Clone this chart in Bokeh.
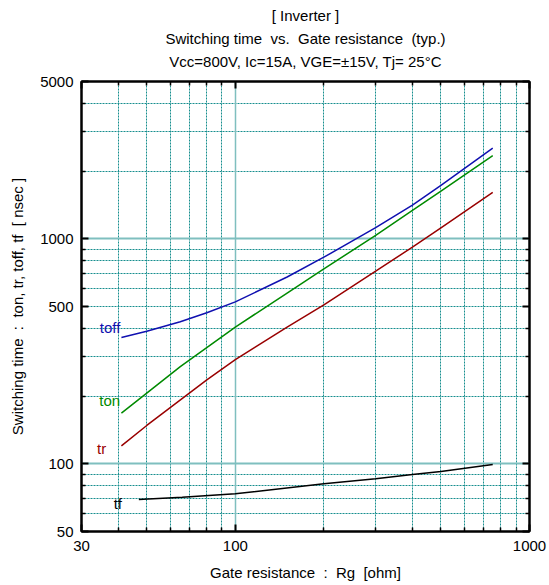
from bokeh.plotting import figure
from bokeh.models import (LogAxis, FixedTicker, PrintfTickFormatter, Grid, Title, Label,
                          CustomLabelingPolicy)
from bokeh.embed import file_html
from bokeh.resources import INLINE

FONT = "Liberation Sans"
NB = "\u00a0"

# ---- data ----
rg_toff = [41, 50, 65, 80, 100, 150, 200, 300, 400, 500, 750]
toff = [364, 388, 428, 469, 524, 676, 828, 1120, 1410, 1728, 2528]

rg_ton = [41, 50, 65, 100, 150, 200, 300, 400, 500, 750]
ton = [168, 206, 270, 405, 574, 735, 1035, 1336, 1630, 2344]

rg_tr = [41, 50, 80, 100, 150, 200, 300, 400, 500, 750]
tr = [120, 148, 236, 290, 405, 508, 718, 918, 1118, 1606]

rg_tf = [47, 66, 100, 200, 300, 400, 500, 750]
tf = [69.3, 70.9, 73.5, 81.5, 85.7, 89.6, 92.4, 99.3]

x_major = [30, 100, 1000]
x_minor = [40, 50, 60, 70, 80, 90, 200, 300, 400, 500, 600, 700, 800, 900]
y_major = [50, 100, 500, 1000, 5000]
y_minor = [60, 70, 80, 90, 200, 300, 400, 600, 700, 800, 900, 2000, 3000, 4000]
x_grid_dot = [40, 50, 60, 70, 80, 90, 200, 300, 400, 500, 600, 700, 800, 900]
x_grid_solid = [100]
y_grid_dot = [60, 70, 80, 90, 200, 300, 400, 500, 600, 700, 800, 900, 2000, 3000, 4000]
y_grid_solid = [100, 1000]

title_lines = ["[ Inverter ]",
               f"Switching time {NB}vs. {NB}Gate resistance {NB}(typ.)",
               "Vcc=800V, Ic=15A, VGE=\u00b115V, Tj= 25\u00b0C"]
x_title = f"Gate resistance {NB}: {NB}Rg {NB}[ohm]"
y_title = f"Switching time {NB}: {NB}ton, tr, toff, tf {NB}[ nsec ]"

p = figure(width=549, height=585, x_axis_type="log", y_axis_type="log",
           x_range=(30, 1000), y_range=(50, 5000),
           output_backend="svg", toolbar_location=None,
           min_border_left=81, min_border_right=20,
           min_border_top=81, min_border_bottom=54)
p.title = None
p.grid.visible = False
p.outline_line_color = "black"
p.outline_line_width = 2
p.background_fill_color = "white"
p.border_fill_color = "white"

def style_axis(ax, ticks, minors, show_labels):
    ax.ticker = FixedTicker(ticks=ticks, minor_ticks=minors)
    ax.formatter = PrintfTickFormatter(format="%d")
    ax.axis_line_color = "black"
    ax.axis_line_width = 2
    ax.major_tick_in = 7
    ax.major_tick_out = 0
    ax.minor_tick_in = 4
    ax.minor_tick_out = 0
    ax.major_tick_line_width = 2
    ax.minor_tick_line_width = 1.5
    ax.major_tick_line_color = "black"
    ax.minor_tick_line_color = "black"
    ax.major_label_text_font = FONT
    ax.major_label_text_color = "black"
    if show_labels:
        ax.major_label_text_font_size = "15px"
    else:
        ax.major_label_text_font_size = "1px"
        ax.major_label_standoff = 0
        ax.major_label_policy = CustomLabelingPolicy(code="return new Set()")
    ax.axis_label_text_font = FONT
    ax.axis_label_text_font_size = "15px"
    ax.axis_label_text_font_style = "normal"
    ax.axis_label_text_color = "black"

xa = p.xaxis[0]
ya = p.yaxis[0]
style_axis(xa, x_major, x_minor, True)
style_axis(ya, y_major, y_minor, True)
xa.major_label_standoff = 9
ya.major_label_standoff = 8
xa.axis_label = x_title
ya.axis_label = y_title
xa.axis_label_standoff = 10
ya.axis_label_standoff = 11

top_ax = LogAxis()
right_ax = LogAxis()
style_axis(top_ax, x_major, x_minor, False)
style_axis(right_ax, y_major, y_minor, False)
top_ax.major_label_standoff = 6
p.add_layout(top_ax, "above")
p.add_layout(right_ax, "right")

# grids
dot_color = "#178e8e"
solid_color = "#7fbfbf"
p.add_layout(Grid(dimension=0, ticker=FixedTicker(ticks=x_grid_dot),
                  grid_line_color=dot_color, grid_line_width=1, grid_line_dash="2 1"))
p.add_layout(Grid(dimension=1, ticker=FixedTicker(ticks=y_grid_dot),
                  grid_line_color=dot_color, grid_line_width=1, grid_line_dash="2 1"))
p.add_layout(Grid(dimension=0, ticker=FixedTicker(ticks=x_grid_solid),
                  grid_line_color=solid_color, grid_line_width=1.5))
p.add_layout(Grid(dimension=1, ticker=FixedTicker(ticks=y_grid_solid),
                  grid_line_color=solid_color, grid_line_width=2))

# titles (first added is closest to the frame)
for t in reversed(title_lines):
    p.add_layout(Title(text=t, align="center", text_font=FONT, text_font_size="15px",
                       text_font_style="normal", text_color="black", standoff=4), "above")

# curves
c_toff, c_ton, c_tr, c_tf = "#1010b0", "#008a00", "#990000", "#000000"
p.line(rg_toff, toff, line_color=c_toff, line_width=1.5)
p.line(rg_ton, ton, line_color=c_ton, line_width=1.5)
p.line(rg_tr, tr, line_color=c_tr, line_width=1.5)
p.line(rg_tf, tf, line_color=c_tf, line_width=1.5)

for txt, x, y, c in [("toff", 34.6, 405, c_toff), ("ton", 34.5, 191, c_ton),
                     ("tr", 33.9, 117, c_tr), ("tf", 38.6, 66.5, c_tf)]:
    p.add_layout(Label(x=x, y=y, text=txt, text_color=c, text_font=FONT,
                       text_font_size="15px", text_baseline="middle", text_align="left"))

open("out.html", "w").write(file_html(p, INLINE))
